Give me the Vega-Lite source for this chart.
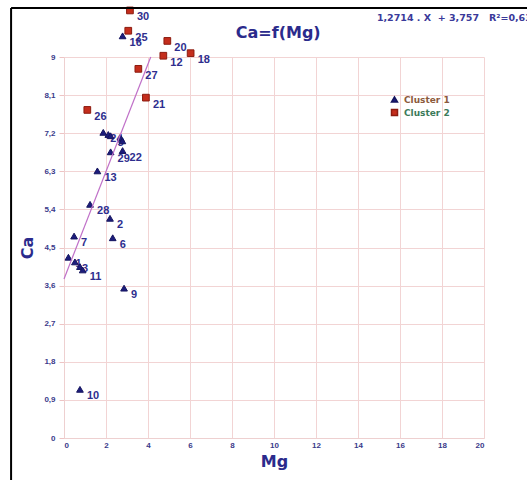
{
  "$schema": "https://vega.github.io/schema/vega-lite/v6.json",
  "width": 420,
  "height": 381,
  "autosize": {"type": "none"},
  "padding": {"left": 64, "top": 57, "right": 43, "bottom": 42},
  "background": "white",
  "config": {
    "view": {"stroke": null},
    "axis": {"gridColor": "#f2d4d4", "domainColor": "#eed0d0", "tickColor": "#eec4c4", "tickSize": 5, "labelFont": "Liberation Sans", "labelFontWeight": "bold", "labelFontSize": 8, "labelColor": "#3a3a8a", "titleFont": "DejaVu Sans", "titleFontWeight": "bold", "titleFontSize": 16, "titleColor": "#2b2b8c"},
    "legend": {"title": null, "orient": "none", "legendX": 326, "legendY": 38, "symbolSize": 36, "rowPadding": 0, "labelFont": "DejaVu Sans", "labelFontWeight": "bold", "labelFontSize": 9, "padding": 0, "labelOffset": 5}
  },
  "data": {"values": [
    {"Mg": 2.79, "Ca": 9.50, "cluster": "Cluster 1", "label": "16"},
    {"Mg": 1.87, "Ca": 7.22, "cluster": "Cluster 1", "label": "24"},
    {"Mg": 2.11, "Ca": 7.17, "cluster": "Cluster 1", "label": ""},
    {"Mg": 2.22, "Ca": 7.14, "cluster": "Cluster 1", "label": "5"},
    {"Mg": 2.70, "Ca": 7.09, "cluster": "Cluster 1", "label": ""},
    {"Mg": 2.78, "Ca": 7.02, "cluster": "Cluster 1", "label": ""},
    {"Mg": 2.22, "Ca": 6.76, "cluster": "Cluster 1", "label": "29"},
    {"Mg": 2.79, "Ca": 6.79, "cluster": "Cluster 1", "label": "22"},
    {"Mg": 1.59, "Ca": 6.31, "cluster": "Cluster 1", "label": "13"},
    {"Mg": 1.24, "Ca": 5.52, "cluster": "Cluster 1", "label": "28"},
    {"Mg": 2.19, "Ca": 5.19, "cluster": "Cluster 1", "label": "2"},
    {"Mg": 0.48, "Ca": 4.77, "cluster": "Cluster 1", "label": "7"},
    {"Mg": 2.32, "Ca": 4.73, "cluster": "Cluster 1", "label": "6"},
    {"Mg": 0.21, "Ca": 4.27, "cluster": "Cluster 1", "label": "1"},
    {"Mg": 0.52, "Ca": 4.16, "cluster": "Cluster 1", "label": "3"},
    {"Mg": 0.76, "Ca": 4.05, "cluster": "Cluster 1", "label": ""},
    {"Mg": 0.89, "Ca": 3.97, "cluster": "Cluster 1", "label": "11"},
    {"Mg": 2.86, "Ca": 3.54, "cluster": "Cluster 1", "label": "9"},
    {"Mg": 0.76, "Ca": 1.15, "cluster": "Cluster 1", "label": "10"},
    {"Mg": 3.14, "Ca": 10.1, "cluster": "Cluster 2", "label": "30"},
    {"Mg": 3.06, "Ca": 9.62, "cluster": "Cluster 2", "label": "25"},
    {"Mg": 4.92, "Ca": 9.38, "cluster": "Cluster 2", "label": "20"},
    {"Mg": 4.73, "Ca": 9.03, "cluster": "Cluster 2", "label": "12"},
    {"Mg": 6.03, "Ca": 9.09, "cluster": "Cluster 2", "label": "18"},
    {"Mg": 3.54, "Ca": 8.72, "cluster": "Cluster 2", "label": "27"},
    {"Mg": 3.90, "Ca": 8.04, "cluster": "Cluster 2", "label": "21"},
    {"Mg": 1.11, "Ca": 7.75, "cluster": "Cluster 2", "label": "26"}
  ]},
  "layer": [
    {
      "mark": {"type": "text", "align": "left", "baseline": "middle", "dx": 7, "dy": 7, "font": "Liberation Sans", "fontWeight": "bold", "fontSize": 11, "color": "#2e2e8e"},
      "encoding": {
        "x": {"field": "Mg", "type": "quantitative", "scale": {"domain": [0, 20], "nice": false}, "axis": {"values": [0, 2, 4, 6, 8, 10, 12, 14, 16, 18, 20], "tickCount": 30, "format": "d", "title": "Mg", "titlePadding": 4, "labelPadding": 3, "tickSize": 0, "labelOverlap": false}},
        "y": {"field": "Ca", "type": "quantitative", "scale": {"domain": [0, 9], "nice": false}, "axis": {"values": [0, 0.9, 1.8, 2.7, 3.6, 4.5, 5.4, 6.3, 7.2, 8.1, 9], "tickCount": 30, "labelExpr": "replace(format(datum.value, '.1~f'), '.', ',')", "title": "Ca", "titlePadding": 8, "labelPadding": 4, "labelOverlap": false}},
        "text": {"field": "label"}
      }
    },
    {
      "mark": {"type": "point", "filled": true, "opacity": 1, "size": 45, "strokeWidth": 1},
      "encoding": {
        "x": {"field": "Mg", "type": "quantitative"},
        "y": {"field": "Ca", "type": "quantitative"},
        "shape": {"field": "cluster", "type": "nominal", "scale": {"domain": ["Cluster 1", "Cluster 2"], "range": ["triangle-up", "square"]},
          "legend": {"labelColor": {"expr": "datum.label === 'Cluster 1' ? '#8c5a3c' : '#3c7a5a'"}}},
        "color": {"field": "cluster", "type": "nominal", "scale": {"domain": ["Cluster 1", "Cluster 2"], "range": ["#1c1c7c", "#c42d1c"]},
          "legend": {"labelColor": {"expr": "datum.label === 'Cluster 1' ? '#8c5a3c' : '#3c7a5a'"}}},
        "stroke": {"field": "cluster", "type": "nominal", "scale": {"domain": ["Cluster 1", "Cluster 2"], "range": ["#14145e", "#8c1c10"]},
          "legend": {"labelColor": {"expr": "datum.label === 'Cluster 1' ? '#8c5a3c' : '#3c7a5a'"}}}
      }
    },
    {
      "data": {"values": [{}]},
      "mark": {"type": "rule", "color": "#c070c8", "strokeWidth": 1.2},
      "encoding": {
        "x": {"datum": 0}, "x2": {"datum": 4.13},
        "y": {"datum": 3.757}, "y2": {"datum": 9.0}
      }
    },
    {
      "data": {"values": [{}]},
      "mark": {"type": "text", "align": "center", "baseline": "middle", "font": "DejaVu Sans", "fontWeight": "bold", "fontSize": 16, "color": "#2b2b8c"},
      "encoding": {"x": {"datum": 10.2}, "y": {"datum": 9.57}, "text": {"value": "Ca=f(Mg)"}}
    },
    {
      "data": {"values": [{}]},
      "mark": {"type": "text", "align": "left", "baseline": "middle", "font": "DejaVu Sans", "fontWeight": "bold", "fontSize": 9.5, "color": "#3a3a9a"},
      "encoding": {"x": {"datum": 14.9}, "y": {"datum": 9.92}, "text": {"value": "1,2714\u00a0.\u00a0X\u00a0\u00a0+\u00a03,757\u00a0\u00a0\u00a0R²=0,63"}}
    },
    {
      "data": {"values": [{}]},
      "mark": {"type": "rule", "color": "black", "strokeWidth": 2},
      "encoding": {"x": {"datum": -2.52}, "y": {"datum": 10.16}, "y2": {"datum": -1.5}}
    },
    {
      "data": {"values": [{}]},
      "mark": {"type": "rule", "color": "black", "strokeWidth": 2},
      "encoding": {"x": {"datum": -2.52}, "x2": {"datum": 23}, "y": {"datum": 10.16}}
    }
  ]
}
